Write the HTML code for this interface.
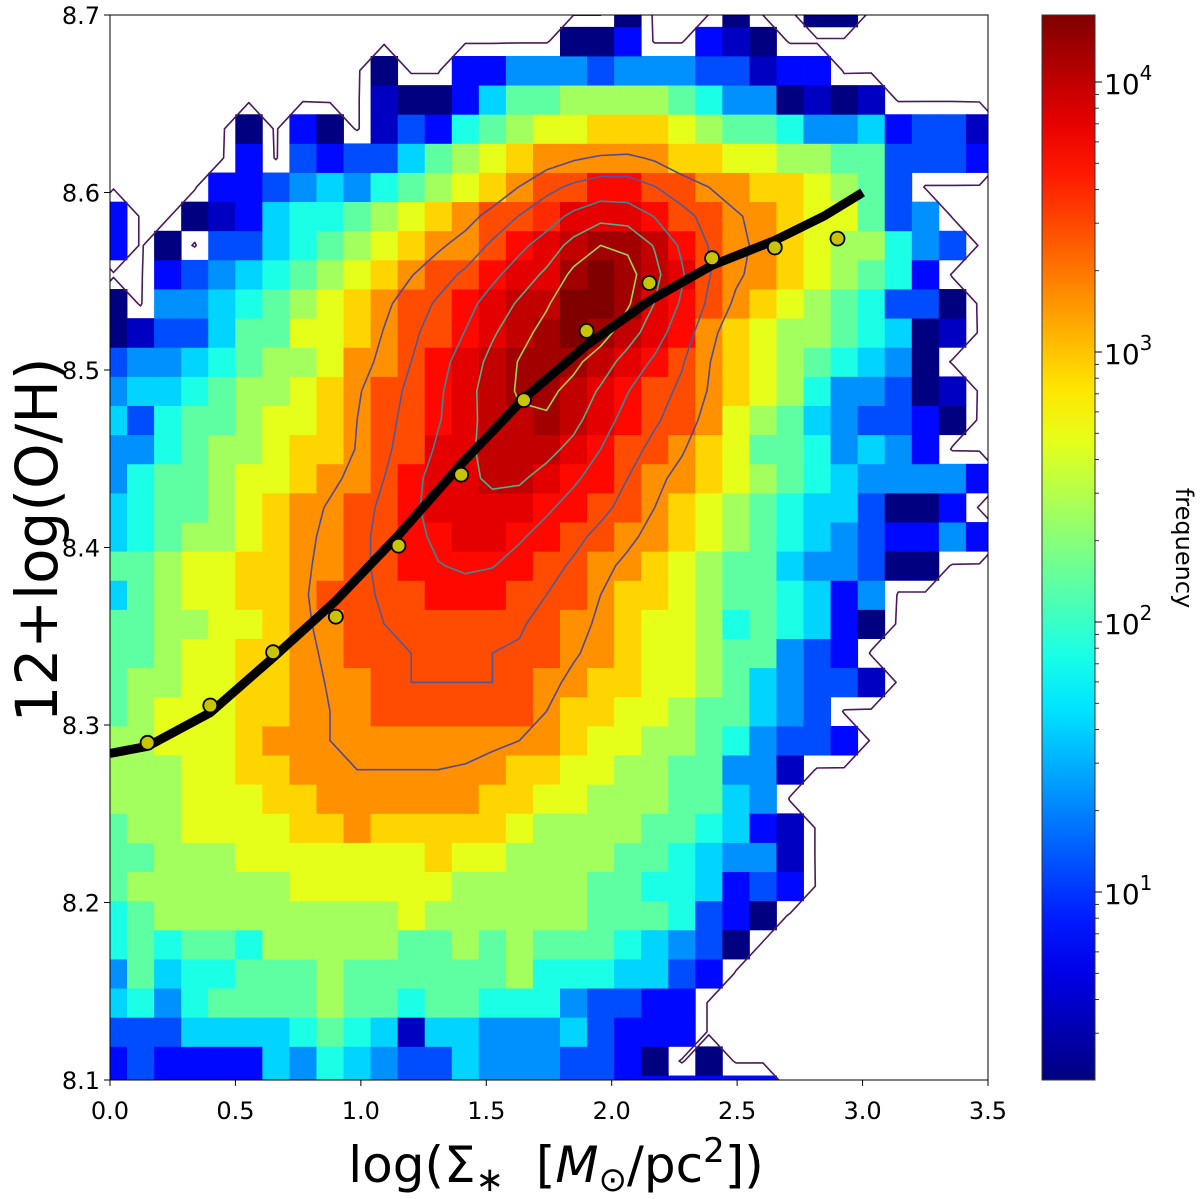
<!DOCTYPE html>
<html><head><meta charset="utf-8"><style>
html,body{margin:0;padding:0;background:#fff;}
svg{display:block;font-family:"DejaVu Sans","Liberation Sans",sans-serif;}
</style></head><body>
<svg id="chart" width="1200" height="1199" viewBox="0 0 1200 1199" xmlns="http://www.w3.org/2000/svg">
<defs>
<clipPath id="plotclip"><rect x="110" y="15" width="878" height="1065"/></clipPath>
<linearGradient id="cbgrad" x1="0" y1="1" x2="0" y2="0"></linearGradient>
</defs>
<rect x="0" y="0" width="1200" height="1199" fill="#fff"/>
<g id="heat" clip-path="url(#plotclip)"></g>
<g id="contours" clip-path="url(#plotclip)"></g>
<g id="fit" clip-path="url(#plotclip)"></g>
<g id="pts"></g>
<rect x="110" y="15" width="878" height="1065" fill="none" stroke="#000" stroke-width="1"/>
<g id="xaxis"></g>
<g id="yaxis"></g>
<text transform="translate(57,540) rotate(-90)" text-anchor="middle" font-size="58" fill="#000">12+log(O/H)</text>
<text x="556" y="1182" text-anchor="middle" font-size="50" fill="#000">log(Σ<tspan font-size="34" dy="9">∗</tspan><tspan dy="-9" xml:space="preserve">  [</tspan><tspan font-style="italic">M</tspan><tspan font-size="34" dy="9">⊙</tspan><tspan dy="-9">/pc</tspan><tspan font-size="34" dy="-20">2</tspan><tspan dy="20">])</tspan></text>
<rect id="cbar" x="1042" y="15" width="53" height="1065" fill="url(#cbgrad)" stroke="#333" stroke-width="1"/>
<g id="cbticks"></g>
<text transform="translate(1176,548) rotate(90)" text-anchor="middle" font-size="24" fill="#000">frequency</text>
</svg>
<script>
// ---- heatmap data: rows from top (row 37) to bottom (row 0); hex level 0..F (lowercase = +0.5) on log-colour scale, '.' = empty
const gridRows = [
"...................0...0..00.....",
".................002..210........",
"..........0..22444344433122......",
"..........1002577888876440101....",
".....0.20.13267899AAA987764452331",
".....2.32335789ABBBBBAA9988773332",
"....2234546789ABCCDDCCBBAA9873...",
"2..012566789ABCCcdddDCCBBA99734..",
"2.0.3356789ABBCDdEeeEDCBBA988643.",
"..23456789ABCCDddeFeEdCBBA98762..",
"0.4456789ABCCDdEEFFedDCBA9876330.",
"013357799ABCCDdEeFeEdDBA98876501.",
"344567889BBCDdEeeeEdDCBA9876540..",
"45567889ABCCDdEeeEdDCCBA98644301.",
"53677899ABCCDdEEeEdDCCB987543320.",
"4467889AABCCddEEEdDCCBA97764542..",
"4677899ABBCDddEEdDDCBBA9876544442",
"567789ABBCCDddddDDCCBA9876553002.",
"567889ABBCCDDddDDCCBBA98765432242",
"77899AABBCCDDDDDCCBBA9877544300..",
"57899AABCCCCDDDCCCBAA98776524....",
"778899ABBCCCCCCCCBBA998676520....",
"77899AABBCCCCCCCCBBA99877432.....",
"78899AABBBCCCCCCBBAA998754331....",
"78999AABBBCCCCCCBAA99877543......",
"88999ABBBBBBBBBBBA9988764332.....",
"88899AABBBBBBBBAA998877441.......",
"888999AABBBBBBAA998887754........",
"7889999AABAAAAA98888776521.......",
"778889999999A9988887765441.......",
"78888889999998888877665232.......",
"6788888888898888887776320........",
"676776888887787877765430.........",
"47566777877777786665532..........",
"5646777787767766643322...........",
"3335555676515544453222...........",
"232222546543354443320.0..........",
"2322225465433544433222222........"
];
const binX0 = -0.0399, binW = 0.10787;   // x bin origin / width (data units)
const binY0 = 8.0861, binH = 0.016411;   // y bin origin / height
const contourLevels = [-3.6, 11.6, 12.6, 13.6, 14.3, 14.85];
const contourColors = ["#4a1a5c", "#50489a", "#4c5a9c", "#3a8a95", "#4fb08a", "#9cd64a"];
const ptX = [0.15,0.40,0.65,0.90,1.15,1.40,1.65,1.90,2.15,2.40,2.65,2.90];
const ptY = [8.290,8.311,8.341,8.361,8.401,8.441,8.483,8.522,8.549,8.563,8.569,8.574];
const fitX = [0,0.15,0.4,0.65,0.9,1.15,1.4,1.65,1.9,2.15,2.4,2.65,2.85,3.0];
const fitY = [8.284,8.288,8.307,8.338,8.370,8.407,8.447,8.484,8.514,8.539,8.559,8.573,8.587,8.600];
const xTicks = [0,0.5,1.0,1.5,2.0,2.5,3.0,3.5];
const xTickLabels = ["0.0","0.5","1.0","1.5","2.0","2.5","3.0","3.5"];
const yTicks = [8.1,8.2,8.3,8.4,8.5,8.6,8.7];
const yTickLabels = ["8.1","8.2","8.3","8.4","8.5","8.6","8.7"];
const cbDecades = [1,2,3,4];

const NS="http://www.w3.org/2000/svg";
const X = x => 110 + (x/3.5)*878;
const Y = y => 1080 - (y-8.1)/0.6*1065;
const CB = v => 82 - (Math.log10(v)-4)*270;
function clamp(v){return Math.max(0,Math.min(1,v));}
function jet(t){
  const r=clamp(1.5-Math.abs(4*t-3)), g=clamp(1.5-Math.abs(4*t-2)), b=clamp(1.5-Math.abs(4*t-1));
  return "rgb("+Math.round(r*255)+","+Math.round(g*255)+","+Math.round(b*255)+")";
}
function mk(tag, attrs, parent){const e=document.createElementNS(NS,tag);for(const k in attrs)e.setAttribute(k,attrs[k]);parent.appendChild(e);return e;}
function lvl(ch){ if(ch==='.') return -4; const lower = ch!==ch.toUpperCase(); return parseInt(ch,16)+(lower?0.5:0); }

const nR = gridRows.length, nC = gridRows[0].length;
const V = [];
for(let r=0;r<nR;r++){
  const s = gridRows[nR-1-r]; const row=[];
  for(let c=0;c<nC;c++){row.push(lvl(s[c]||'.'));}
  V.push(row);
}
const heat=document.getElementById('heat');
for(let r=0;r<nR;r++)for(let c=0;c<nC;c++){
  const v=V[r][c]; if(v<0) continue;
  const x1=X(binX0+c*binW), x2=X(binX0+(c+1)*binW), y1=Y(binY0+(r+1)*binH), y2=Y(binY0+r*binH);
  const el=mk('rect',{x:x1.toFixed(2),y:y1.toFixed(2),width:(x2-x1+0.4).toFixed(2),height:(y2-y1+0.4).toFixed(2),fill:jet(v/15)},heat);
  
  
}
// smoothed grid for inner contours
const S=[];
for(let r=0;r<nR;r++){const row=[];for(let c=0;c<nC;c++){
  let s=0,w=0;
  for(let dr=-1;dr<=1;dr++)for(let dc=-1;dc<=1;dc++){
    const rr=r+dr,cc=c+dc; const wt=(dr===0&&dc===0)?4:((dr===0||dc===0)?2:1);
    const v=(rr<0||cc<0||rr>=nR||cc>=nC)?0:Math.max(0,V[rr][cc]);
    s+=v*wt;w+=wt;}
  row.push(s/w);}S.push(row);}
const cont=document.getElementById('contours');
function contour(G,L,color,idx){
  const val=(r,c)=>(r<0||c<0||r>=nR||c>=nC)?-4:G[r][c];
  let d="";
  const cx=cc=>binX0+(cc+0.5)*binW, cy=rr=>binY0+(rr+0.5)*binH;
  for(let r=-1;r<nR;r++)for(let c=-1;c<nC;c++){
    const a=val(r,c), b=val(r,c+1), e=val(r+1,c+1), f=val(r+1,c);
    const pts=[];
    if((a<L)!==(b<L)){const t=(L-a)/(b-a);pts.push([cx(c+t),cy(r)]);}
    if((b<L)!==(e<L)){const t=(L-b)/(e-b);pts.push([cx(c+1),cy(r+t)]);}
    if((e<L)!==(f<L)){const t=(L-e)/(f-e);pts.push([cx(c+1-t),cy(r+1)]);}
    if((f<L)!==(a<L)){const t=(L-f)/(a-f);pts.push([cx(c),cy(r+1-t)]);}
    for(let i=0;i+1<pts.length;i+=2){
      d+="M"+X(pts[i][0]).toFixed(1)+","+Y(pts[i][1]).toFixed(1)+"L"+X(pts[i+1][0]).toFixed(1)+","+Y(pts[i+1][1]).toFixed(1);
    }
  }
  const p=mk('path',{d:d,fill:"none",stroke:color,"stroke-width":1.6,"stroke-linecap":"round"},cont);
  
  
}
contourLevels.forEach((L,li)=>{ contour(li===0?V:S, li===0?L:L-0.6, contourColors[li], li); });
// fit curve
const fit=document.getElementById('fit');
let fd="";
fitX.forEach((x,i)=>{fd+=(i?"L":"M")+X(x).toFixed(1)+","+Y(fitY[i]).toFixed(1);});
const fl=mk('path',{d:fd,fill:"none",stroke:"#000","stroke-width":9,"stroke-linejoin":"round"},fit);


const pg=document.getElementById('pts');
ptX.forEach((x,i)=>{
  const c=mk('circle',{cx:X(x).toFixed(1),cy:Y(ptY[i]).toFixed(1),r:7,fill:"#c8c400",stroke:"#000","stroke-width":1.8},pg);
  
  
});
const xa=document.getElementById('xaxis');
xTicks.forEach((t,i)=>{
  const l=mk('line',{x1:X(t),x2:X(t),y1:1080,y2:1086,stroke:"#000","stroke-width":1},xa);
  
  
  const tx=mk('text',{x:X(t),y:1119,"text-anchor":"middle","font-size":24,fill:"#000"},xa);
  tx.textContent=xTickLabels[i];
  
  
});
const ya=document.getElementById('yaxis');
yTicks.forEach((t,i)=>{
  const l=mk('line',{x1:104,x2:110,y1:Y(t),y2:Y(t),stroke:"#000","stroke-width":1},ya);
  
  
  const tx=mk('text',{x:100,y:Y(t)+9,"text-anchor":"end","font-size":24,fill:"#000"},ya);
  tx.textContent=yTickLabels[i];
  
  
});
const grad=document.getElementById('cbgrad');
for(let i=0;i<=20;i++){mk('stop',{offset:(i/20),"stop-color":jet(i/20)},grad);}
const cbt=document.getElementById('cbticks');
cbDecades.forEach(dk=>{
  const y=CB(Math.pow(10,dk));
  const l=mk('line',{x1:1095,x2:1102,y1:y,y2:y,stroke:"#000","stroke-width":1},cbt);
  
  
  const tx=mk('text',{x:1104,y:y+12,"font-size":28,fill:"#000"},cbt);
  tx.innerHTML='10<tspan font-size="20" dy="-14">'+dk+'</tspan>';
  
  
});
for(let dk=0;dk<=4;dk++)for(let m=2;m<=9;m++){
  const v=m*Math.pow(10,dk), y=CB(v);
  if(y<15||y>1080) continue;
  const l=mk('line',{x1:1095,x2:1099,y1:y,y2:y,stroke:"#000","stroke-width":0.8},cbt);
  
  
}
</script>
</body></html>
